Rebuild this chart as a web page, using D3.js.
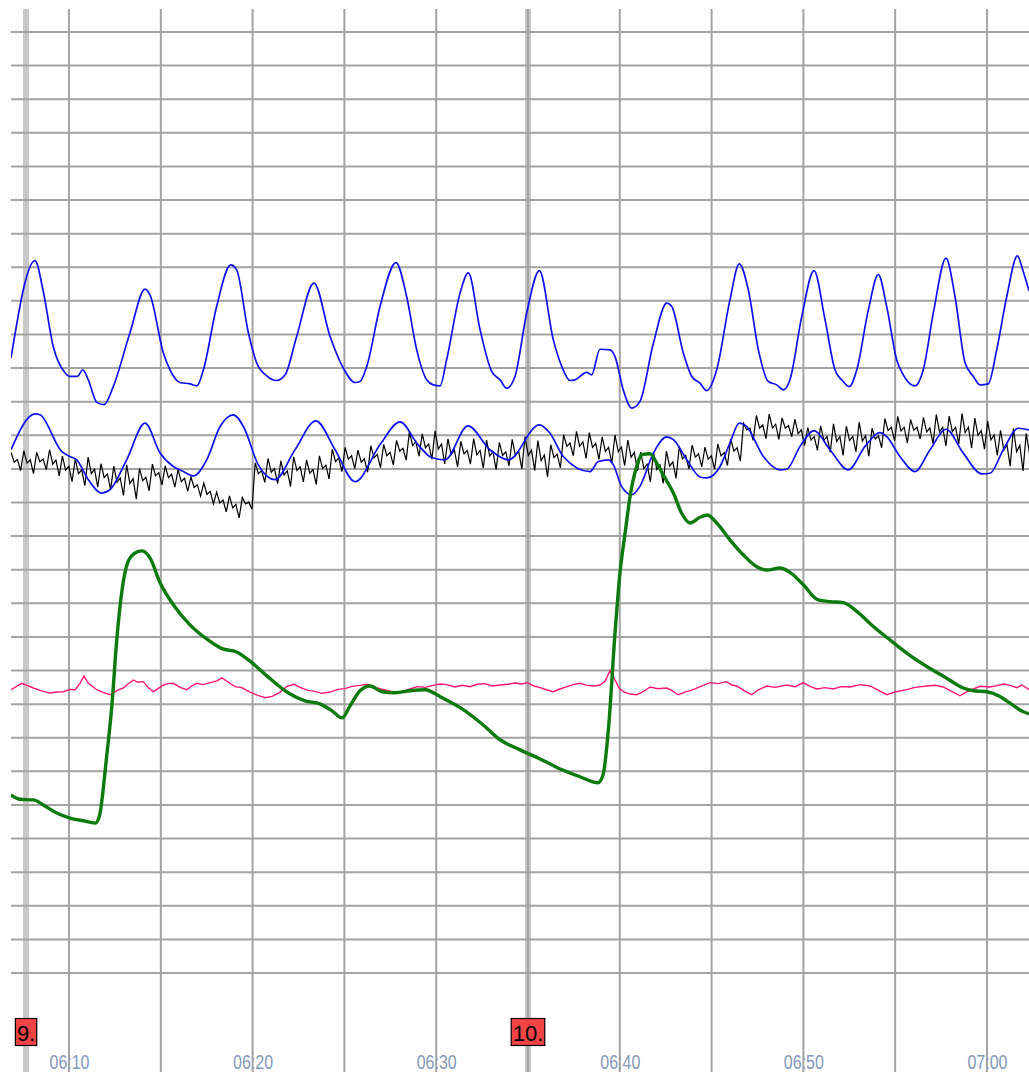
<!DOCTYPE html>
<html>
<head>
<meta charset="utf-8">
<script src="https://cdn.jsdelivr.net/npm/d3@7"></script>
<style>
html, body { margin: 0; padding: 0; background: #fff; }
svg { display: block; }
</style>
</head>
<body>
<div id="chart"></div>
<script>
// times are minutes after 06:00, values in chart units (one grid row = 10)
const blueUpper = [
  [6.84,183.0],[8.15,212.0],[8.58,203.3],[9.14,186.4],[9.78,178.6],[10.05,177.5],[10.45,177.5],
  [10.75,179.5],[11.05,176.5],[11.51,169.8],[11.91,169.1],[12.41,174.5],[13.32,190.5],[14.14,203.5],
  [14.41,201.8],[15.14,184.5],[15.50,179.5],[16.05,175.7],[16.59,175.3],[16.96,174.7],[17.32,179.5],
  [18.04,198.3],[18.81,210.7],[19.13,209.2],[19.77,190.5],[20.22,181.6],[20.77,177.7],[21.31,176.3],
  [21.77,178.0],[22.40,189.4],[23.34,205.3],[24.22,189.4],[24.94,180.0],[25.58,175.7],[25.85,176.0],
  [26.22,180.5],[26.94,198.3],[27.81,211.4],[28.39,201.3],[28.94,185.4],[29.48,176.5],[29.84,175.0],
  [30.21,174.7],[30.57,182.5],[31.30,202.3],[31.75,208.3],[32.39,191.4],[33.02,179.0],[33.48,176.5],
  [33.84,174.0],[34.29,177.5],[34.93,196.4],[35.62,209.0],[36.38,188.4],[36.84,180.5],[37.29,176.3],
  [37.56,176.5],[38.20,178.7],[38.47,178.0],[38.92,185.6],[39.47,185.4],[39.74,183.4],[40.19,173.5],
  [40.65,168.1],[41.10,170.1],[41.83,187.4],[42.56,199.3],[42.83,198.3],[43.46,184.5],[43.92,177.5],
  [44.37,175.5],[44.74,173.3],[45.28,179.5],[46.00,200.3],[46.51,211.0],[47.00,203.3],[47.55,185.4],
  [48.09,176.0],[48.55,175.0],[48.91,173.5],[49.27,176.5],[49.91,195.3],[50.58,209.0],[51.18,194.4],
  [51.72,179.5],[52.09,176.5],[52.50,174.5],[52.91,179.5],[53.54,197.3],[54.08,207.8],[54.54,198.3],
  [55.08,182.5],[55.44,178.0],[56.08,174.7],[56.53,179.5],[57.08,196.4],[57.77,212.7],[58.26,201.3],
  [58.81,181.5],[59.26,177.5],[59.62,175.0],[60.07,175.3],[60.53,185.4],[61.08,201.3],[61.66,213.4],
  [61.95,209.2],[62.29,203.0]
];

const blueLower = [
  [6.84,155.7],[8.15,166.4],[8.42,166.1],[9.60,155.2],[10.05,153.7],[10.42,152.7],[11.05,146.8],
  [11.78,142.8],[12.23,143.8],[13.14,152.7],[14.14,163.6],[14.96,154.7],[15.68,150.7],[16.23,149.2],
  [16.77,147.9],[17.50,152.7],[18.23,162.6],[18.95,166.1],[19.50,162.6],[20.31,151.2],[21.22,146.8],
  [22.31,155.7],[23.45,164.3],[24.49,155.7],[25.58,146.2],[26.94,157.2],[28.03,164.0],[29.01,157.2],
  [29.77,153.3],[30.48,152.7],[31.73,162.8],[32.93,155.7],[33.93,152.7],[35.62,163.1],[36.20,160.6],
  [36.92,153.7],[38.38,149.2],[38.83,152.2],[39.38,152.7],[39.65,151.2],[40.10,144.8],[40.65,142.3],
  [41.10,144.8],[41.83,154.7],[42.56,159.5],[42.92,158.7],[43.65,152.7],[44.37,147.6],[44.74,147.3],
  [45.46,150.7],[46.00,157.7],[46.51,163.6],[46.91,162.6],[47.82,153.7],[48.73,149.7],[49.09,149.9],
  [49.82,156.7],[50.58,161.4],[51.45,155.7],[52.45,149.7],[53.36,156.7],[54.17,160.8],[54.54,159.6],
  [55.26,153.7],[56.08,149.2],[56.90,155.7],[57.77,161.8],[58.71,154.7],[59.72,148.5],[60.17,148.7],
  [60.89,155.7],[61.71,162.1],[62.29,161.6]
];

const green = [
  [6.84,53.0],[7.33,51.7],[8.06,51.5],[8.60,50.0],[9.33,47.6],[10.05,46.1],[10.78,45.3],[11.42,44.6],
  [11.65,46.6],[12.05,64.4],[12.33,79.3],[12.60,99.1],[12.89,114.0],[13.21,122.3],[13.60,125.0],
  [13.98,125.6],[14.41,123.5],[14.96,116.1],[15.77,108.9],[16.59,103.6],[17.57,99.1],[18.33,96.5],
  [19.10,95.6],[19.97,92.3],[20.84,88.1],[21.93,83.4],[22.85,81.0],[23.67,80.1],[24.33,78.0],
  [24.87,75.9],[25.31,79.5],[25.85,84.0],[26.40,85.4],[27.05,83.7],[27.76,83.4],[28.57,84.0],
  [29.39,84.3],[30.32,81.9],[31.41,78.6],[32.50,74.1],[33.48,69.4],[34.57,66.4],[35.66,63.7],
  [36.75,60.7],[37.83,58.4],[38.81,56.6],[39.09,59.0],[39.38,72.4],[39.74,101.1],[40.01,119.0],
  [40.29,130.9],[40.56,141.8],[40.92,150.7],[41.19,154.2],[41.65,154.5],[42.01,151.7],[42.37,148.2],
  [42.92,142.8],[43.37,136.8],[43.83,133.9],[44.37,135.6],[44.77,136.3],[45.28,133.9],[46.00,128.9],
  [46.73,124.4],[47.46,120.9],[48.00,119.9],[48.73,120.5],[49.27,119.2],[50.00,115.5],[50.81,111.0],
  [51.45,110.5],[52.18,110.2],[52.91,107.6],[53.81,103.1],[54.72,99.1],[55.63,95.2],[56.72,91.2],
  [57.81,87.7],[58.71,84.8],[59.26,84.0],[59.99,83.7],[60.71,82.3],[61.26,80.3],[61.95,77.8],[62.29,77.1]
];

const pink = [
  [6.84,84.3],[7.42,86.2],[7.71,85.6],[8.06,84.8],[8.42,84.1],[8.96,83.3],[9.35,83.6],[9.69,83.7],
  [10.05,84.4],[10.33,84.3],[10.60,86.2],[10.82,88.4],[11.05,86.2],[11.51,84.3],[11.85,83.5],[12.23,82.8],
  [12.61,84.0],[12.96,84.8],[13.21,86.0],[13.50,87.2],[13.76,86.5],[14.05,86.7],[14.30,85.0],[14.59,83.7],
  [14.85,84.6],[15.14,85.7],[15.39,86.1],[15.68,86.2],[16.05,85.0],[16.41,84.3],[16.65,85.3],[16.96,86.2],
  [17.30,85.8],[17.68,86.4],[18.06,86.9],[18.33,87.8],[18.66,86.6],[19.04,85.2],[19.42,84.9],[19.86,83.6],
  [20.29,82.6],[20.68,81.9],[21.06,82.3],[21.49,83.5],[21.87,85.3],[22.26,85.9],[22.58,85.0],[23.02,84.1],
  [23.40,83.8],[23.78,83.2],[24.22,83.6],[24.65,84.4],[25.03,84.6],[25.41,85.3],[25.85,85.6],[26.23,85.9],
  [26.61,85.1],[26.99,84.5],[27.38,84.0],[27.76,83.4],[28.14,83.7],[28.57,84.5],[28.96,85.2],[29.39,85.0],
  [29.83,85.6],[30.21,86.0],[30.59,85.8],[31.02,85.1],[31.41,85.6],[31.84,85.2],[32.22,85.9],[32.66,86.1],
  [33.04,85.4],[33.48,85.7],[33.91,85.9],[34.29,86.3],[34.68,86.0],[34.95,86.4],[35.33,85.4],[35.66,84.9],
  [36.04,84.2],[36.38,83.7],[36.74,84.5],[37.13,85.2],[37.45,85.8],[37.83,86.2],[38.22,85.6],[38.60,85.4],
  [38.92,85.7],[39.20,86.8],[39.47,90.0],[39.63,88.3],[39.74,87.2],[39.96,84.8],[40.19,83.7],[40.56,83.0],
  [40.92,82.8],[41.27,83.7],[41.65,85.1],[42.08,84.6],[42.56,84.8],[42.84,84.0],[43.19,82.8],[43.55,83.6],
  [44.01,84.3],[44.37,85.2],[44.92,86.4],[45.35,86.1],[45.82,86.7],[46.11,85.7],[46.37,85.4],[46.77,84.0],
  [47.18,82.8],[47.53,84.2],[48.00,85.4],[48.46,85.0],[49.09,85.7],[49.55,85.2],[50.00,86.4],[50.36,85.3],
  [50.73,84.5],[51.18,84.9],[51.63,84.5],[52.05,85.2],[52.54,85.1],[53.09,85.8],[53.63,85.4],[54.07,84.2],
  [54.54,82.8],[54.99,83.6],[55.63,84.3],[56.08,85.0],[56.72,85.4],[57.17,85.6],[57.62,85.1],[57.99,84.0],
  [58.26,83.3],[58.53,82.5],[58.86,83.6],[59.26,84.5],[59.62,85.3],[60.17,85.1],[60.55,85.5],[60.89,86.0],
  [61.26,85.6],[61.62,84.9],[61.91,85.7],[62.29,84.3]
];

// black channel sampled every 10.5 s from 06:06:50
const blackStart = 6.84;
const blackStep = 0.175;
const blackValues = [
  155.0,152.0,152.8,149.5, 155.4,151.7,152.7,148.6, 154.9,152.1,152.9,149.8, 155.7,151.4,152.6,147.9,
  153.8,149.6,150.8,146.2, 152.9,148.6,149.7,145.0, 153.5,148.6,149.9,144.6, 151.6,147.4,148.5,143.9,
  150.8,146.0,147.3,142.1, 151.2,145.6,147.1,141.0, 150.1,146.5,147.5,143.5, 151.4,148.0,148.9,145.2,
  150.9,147.4,148.4,144.6, 149.8,146.2,147.2,143.3, 147.6,144.5,145.3,141.9, 145.8,142.4,143.3,139.6,
  143.1,139.9,140.7,137.2, 142.0,138.4,139.4,135.4, 141.5,139.6,140.1,138.0, 151.8,148.6,149.5,146.0,
  153.1,149.0,150.1,145.6, 152.4,148.2,149.4,144.8, 153.6,149.5,150.6,146.1, 152.7,148.7,149.8,145.4,
  153.9,150.1,151.1,147.0, 155.8,152.2,153.2,149.2, 156.4,152.9,153.9,150.1, 155.6,152.0,153.0,149.0,
  156.9,153.3,154.3,150.4, 157.3,153.9,154.9,151.2, 158.5,155.3,156.1,152.6, 161.0,157.0,158.1,153.8,
  160.4,156.3,157.4,152.9, 161.3,155.9,157.4,151.5, 158.9,154.3,155.6,150.6, 158.2,154.5,155.5,151.4,
  159.0,154.2,155.5,150.2, 158.6,153.8,155.1,149.8, 157.9,154.0,155.1,150.9, 158.8,154.0,155.3,150.0,
  159.6,154.0,155.6,149.5, 158.4,152.5,154.1,147.6, 157.2,153.4,154.4,150.3, 160.2,156.7,157.7,153.9,
  161.2,156.7,158.0,153.1, 160.8,156.4,157.6,152.8, 159.5,155.2,156.4,151.7, 160.1,155.1,156.5,151.0,
  158.6,153.5,154.9,149.4, 155.0,150.1,151.4,146.1, 154.8,149.8,151.2,145.7, 155.3,150.8,152.1,147.2,
  156.6,153.0,154.0,150.0, 157.1,153.5,154.5,150.6, 156.5,152.9,153.9,149.9, 157.4,153.9,154.8,151.0,
  158.9,155.3,156.3,152.3, 163.5,161.6,162.1,158.5, 165.9,162.1,163.1,159.0, 166.3,162.2,163.3,158.8,
  165.2,162.1,162.9,159.6, 164.8,160.5,161.6,156.9, 162.3,158.6,159.6,155.5, 162.8,158.5,159.6,154.9,
  163.4,158.2,159.6,154.0, 162.7,158.5,159.7,155.1, 163.9,158.3,159.9,153.8, 162.1,158.9,159.8,156.3,
  165.0,161.4,162.4,158.4, 165.6,161.3,162.4,157.7, 164.7,161.5,162.4,158.9, 165.3,161.0,162.2,157.5,
  166.2,161.0,162.4,156.8, 165.7,161.1,162.4,157.4, 166.5,160.8,162.4,156.2, 165.1,160.0,161.4,155.9,
  164.2,158.6,160.1,154.0, 161.5,155.6,157.2,150.8, 162.0,155.1,157.0,149.4, 160.6,154.7,156.3,149.9
];

const markerTimes = [7.66, 35.0];
const markerLabels = ['9.', '10.'];

const W = 1029, H = 1072;
const plotLeft = 11, plotRight = 1029, plotTop = 9;
const base = new Date(2020, 0, 1, 6, 0, 0);
const toTime = (m) => new Date(base.getTime() + Math.round(m * 60000));

const x = d3.scaleTime()
    .domain([toTime(6.84), toTime(62.29)])
    .range([plotLeft, plotRight]);
const y = d3.scaleLinear()
    .domain([0, 280])
    .range([973, 32]);

const svg = d3.select('#chart').append('svg')
    .attr('width', W)
    .attr('height', H);

svg.append('rect').attr('width', W).attr('height', H).attr('fill', '#fff');

svg.append('clipPath').attr('id', 'plot')
  .append('rect')
    .attr('x', plotLeft).attr('y', plotTop)
    .attr('width', plotRight - plotLeft).attr('height', H - plotTop);

// event marker bars
svg.selectAll('line.marker')
    .data(markerTimes)
    .enter()
    .append('line')
    .attr('class', 'marker')
    .attr('x1', (d) => x(toTime(d)))
    .attr('x2', (d) => x(toTime(d)))
    .attr('y1', plotTop)
    .attr('y2', H)
    .attr('stroke', '#c8c8c8')
    .attr('stroke-width', 6);

// vertical grid, every 5 minutes
const xGrid = svg.append('g')
    .attr('transform', `translate(0, ${H})`)
    .call(d3.axisBottom(x)
        .ticks(d3.timeMinute.every(5))
        .tickSize(-(H - plotTop))
        .tickFormat('')
        .offset(0));
xGrid.select('.domain').remove();
xGrid.selectAll('line').attr('stroke', '#a3a3a3').attr('stroke-width', 2);

// horizontal grid
const yGrid = svg.append('g')
    .attr('transform', `translate(${plotLeft}, 0)`)
    .call(d3.axisLeft(y)
        .tickValues(d3.range(0, 281, 10))
        .tickSize(-(plotRight - plotLeft))
        .tickFormat('')
        .offset(0));
yGrid.select('.domain').remove();
yGrid.selectAll('line').attr('stroke', '#a3a3a3').attr('stroke-width', 2);

// time labels
const xLabels = svg.append('g')
    .attr('transform', `translate(0, 1069)`)
    .call(d3.axisBottom(x)
        .ticks(d3.timeMinute.every(10))
        .tickSize(0)
        .tickPadding(0)
        .tickFormat(d3.timeFormat('%H:%M')));
xLabels.select('.domain').remove();
xLabels.attr('font-family', 'Liberation Sans, Arial, sans-serif').attr('font-size', 20);
xLabels.selectAll('text')
    .attr('y', 0)
    .attr('dy', 0)
    .attr('fill', '#8598ba')
    .attr('textLength', 40)
    .attr('lengthAdjust', 'spacingAndGlyphs');

// traces
const traces = svg.append('g').attr('clip-path', 'url(#plot)');

const smooth = d3.line()
    .x((d) => x(toTime(d[0])))
    .y((d) => y(d[1]))
    .curve(d3.curveMonotoneX);
const straight = d3.line()
    .x((d) => x(toTime(d[0])))
    .y((d) => y(d[1]));

traces.append('path')
    .attr('fill', 'none')
    .attr('stroke', '#ff1478')
    .attr('stroke-width', 1.4)
    .attr('d', straight(pink));

const black = blackValues.map((v, i) => [blackStart + i * blackStep, v]);
traces.append('path')
    .attr('fill', 'none')
    .attr('stroke', '#000')
    .attr('stroke-width', 1.2)
    .attr('d', straight(black));

traces.selectAll('path.blue')
    .data([blueUpper, blueLower])
    .enter()
    .append('path')
    .attr('class', 'blue')
    .attr('fill', 'none')
    .attr('stroke', '#1010f5')
    .attr('stroke-width', 1.7)
    .attr('d', (d) => smooth(d));

traces.append('path')
    .attr('fill', 'none')
    .attr('stroke', '#0c7a0c')
    .attr('stroke-width', 3.4)
    .attr('d', smooth(green));

// marker tags
const tags = svg.selectAll('g.tag')
    .data(markerTimes)
    .enter()
    .append('g')
    .attr('class', 'tag')
    .attr('transform', (d) => `translate(${x(toTime(d))}, 0)`);

tags.each(function (d, i) {
    const g = d3.select(this);
    const rect = g.append('rect');
    const text = g.append('text')
        .attr('font-family', 'Liberation Sans, Arial, sans-serif')
        .attr('font-size', 22)
        .attr('fill', '#000')
        .attr('y', 1041)
        .text(markerLabels[i]);
    const w = text.node().getComputedTextLength() + 3;
    text.attr('x', -w / 2 + 1.5);
    rect.attr('x', -w / 2)
        .attr('y', 1018.5)
        .attr('width', w)
        .attr('height', 27)
        .attr('fill', '#f24444')
        .attr('stroke', '#000')
        .attr('stroke-width', 1.2);
});
</script>
</body>
</html>
